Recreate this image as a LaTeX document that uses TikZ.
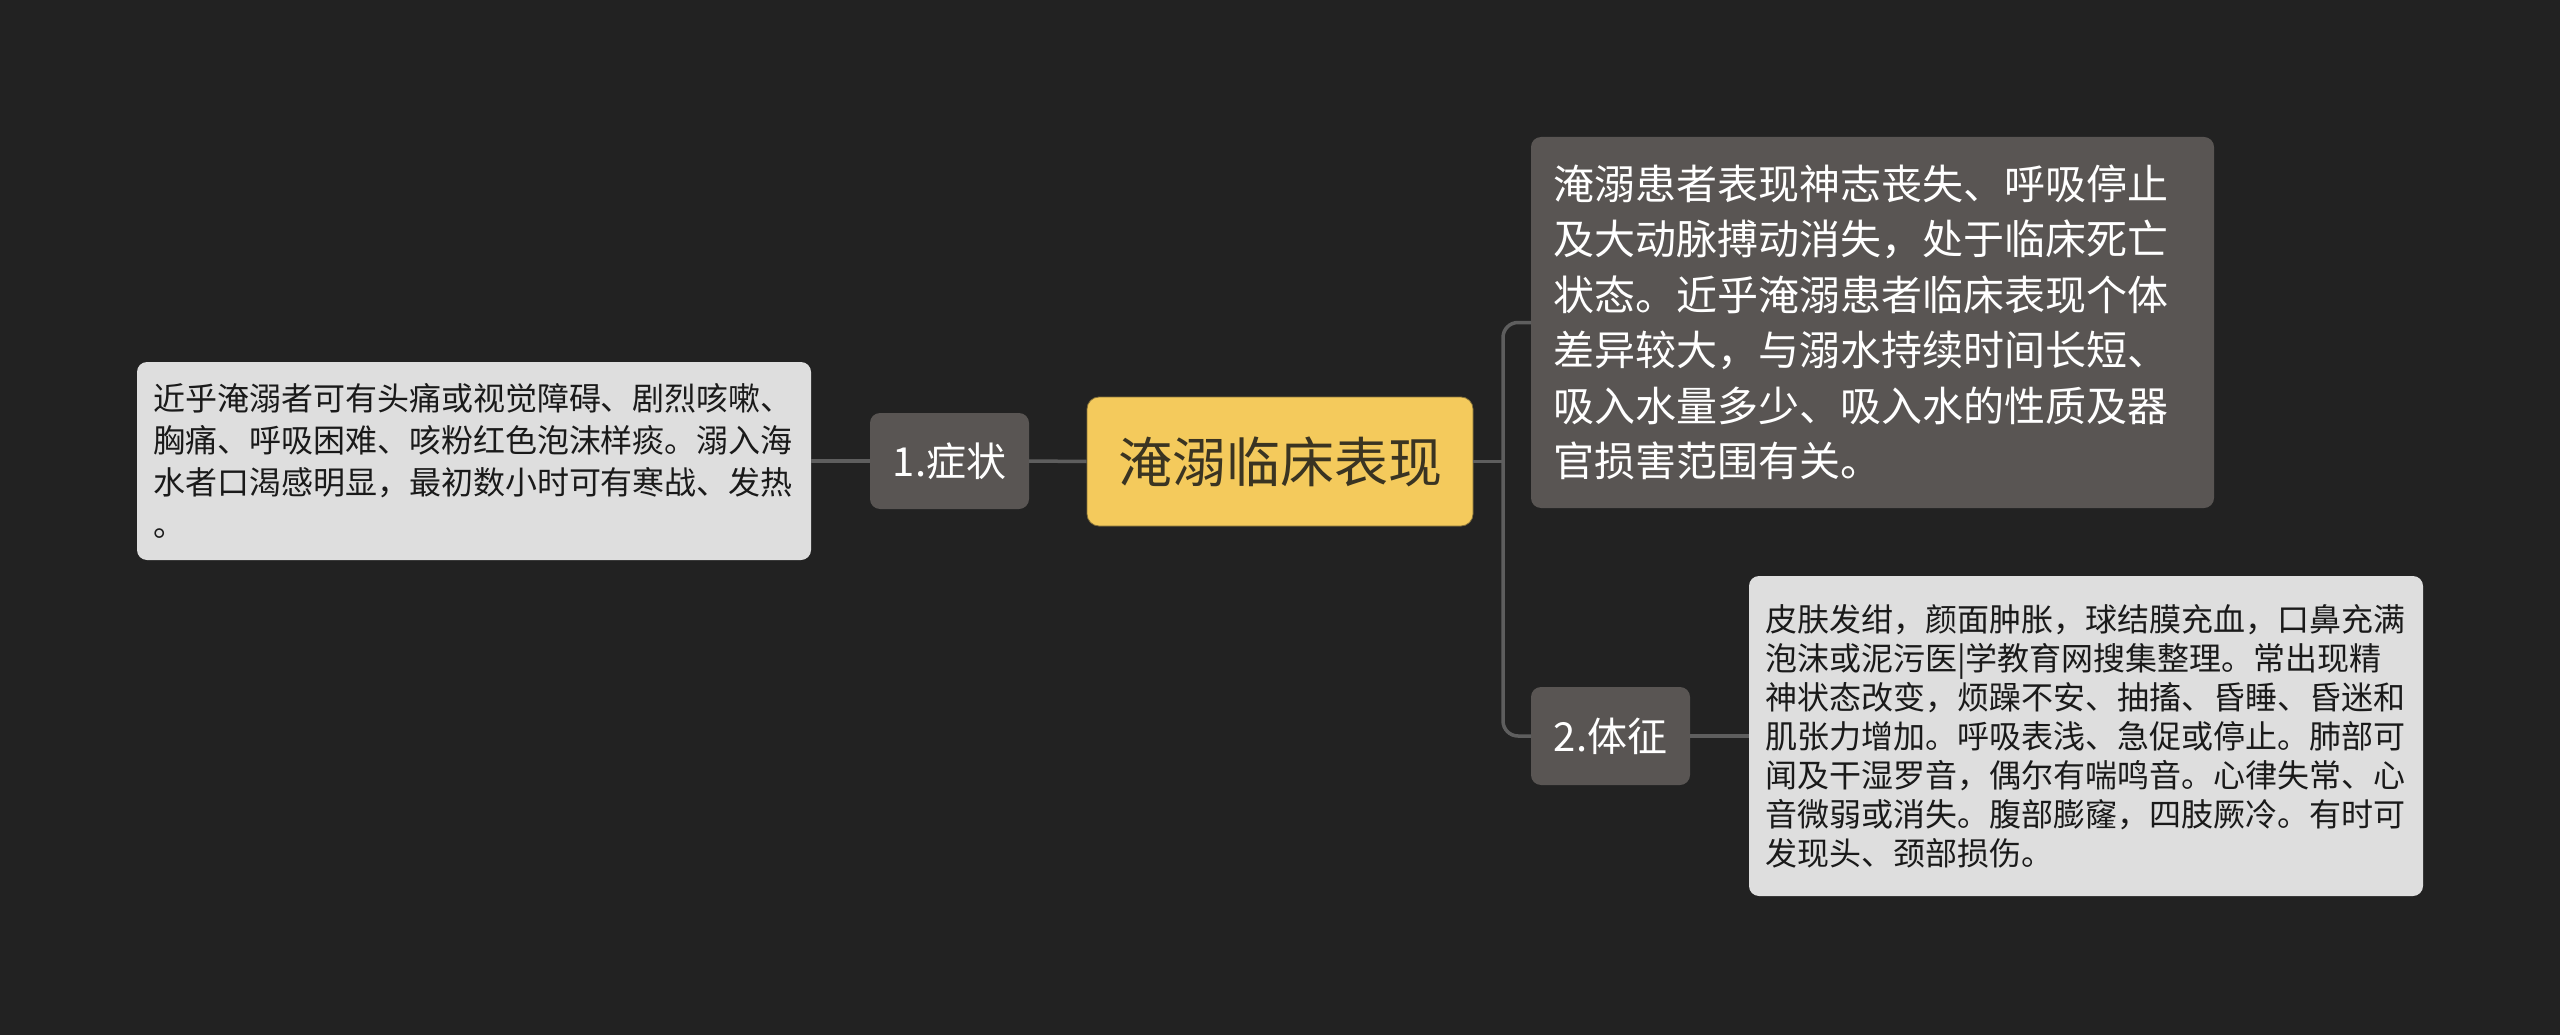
\documentclass[tikz,border=0pt]{standalone}
\usepackage{fontspec}
\setmainfont{Noto Sans CJK SC}
\begin{document}
\begin{tikzpicture}[x=1pt,y=-1pt,
  conn/.style={draw=linegray,line width=3.5pt},
  lightbox/.style={rectangle,rounded corners=10pt,fill=lightfill,text=textdark,align=left,inner ysep=0pt,anchor=center},
  darkbox/.style={rectangle,rounded corners=10pt,fill=darkfill,text=white,align=left,inner ysep=0pt,anchor=center},
  midbox/.style={rectangle,rounded corners=10pt,fill=darkfill,text=white,align=center,inner sep=0pt,anchor=center,font=\fontsize{40}{48}\selectfont},
  rootbox/.style={rectangle,rounded corners=12pt,fill=rootfill,text=roottext,draw=roottext!60!rootfill,line width=0.8pt,align=center,inner sep=0pt,anchor=center,font=\fontsize{54}{64}\selectfont}
]
\definecolor{bg}{HTML}{222222}
\definecolor{linegray}{HTML}{5E5E5E}
\definecolor{lightfill}{HTML}{DEDEDE}
\definecolor{darkfill}{HTML}{595553}
\definecolor{rootfill}{HTML}{F4CA5C}
\definecolor{roottext}{HTML}{3A3422}
\definecolor{textdark}{HTML}{1A1A1A}
\fill[bg] (0,0) rectangle (2560,1035);
\useasboundingbox (0,0) rectangle (2560,1035);

\node[rootbox,minimum width=386pt,minimum height=129pt] (c) at (1280,461.5) {淹溺临床表现};

\node[midbox,minimum width=159pt,minimum height=96pt] (s1) at (949.5,461) {1.症状};
\node[midbox,minimum width=159pt,minimum height=98pt] (s2) at (1610.5,736) {2.体征};

\node[lightbox,text width=642pt,inner xsep=16pt,minimum height=198pt,font=\fontsize{32}{42}\selectfont] (lb) at (474,461) {近乎淹溺者可有头痛或视觉障碍、剧烈咳嗽、\\胸痛、呼吸困难、咳粉红色泡沫样痰。溺入海\\水者口渴感明显，最初数小时可有寒战、发热\\。};

\node[darkbox,text width=639pt,inner xsep=22pt,minimum height=371pt,font=\fontsize{41}{55.5}\selectfont] (tr) at (1872.5,322.5) {淹溺患者表现神志丧失、呼吸停止\\及大动脉搏动消失，处于临床死亡\\状态。近乎淹溺患者临床表现个体\\差异较大，与溺水持续时间长短、\\吸入水量多少、吸入水的性质及器\\官损害范围有关。};

\node[lightbox,text width=642pt,inner xsep=16pt,minimum height=320pt,font=\fontsize{32}{39}\selectfont] (br) at (2086,736) {皮肤发绀，颜面肿胀，球结膜充血，口鼻充满\\泡沫或泥污医|学教育网搜集整理。常出现精\\神状态改变，烦躁不安、抽搐、昏睡、昏迷和\\肌张力增加。呼吸表浅、急促或停止。肺部可\\闻及干湿罗音，偶尔有喘鸣音。心律失常、心\\音微弱或消失。腹部膨窿，四肢厥冷。有时可\\发现头、颈部损伤。};

\coordinate (j) at (1503,461.5);

\begin{scope}[on background layer/.style={}]
\end{scope}
\draw[conn] (c.east) -- (j);
\draw[conn,rounded corners=15pt] (tr.west) -| (j) |- (s2.west);
\draw[conn] (c.west) -- (s1.east);
\draw[conn] (s1.west) -- (lb.east);
\draw[conn] (s2.east) -- (br.west);
\end{tikzpicture}
\end{document}
